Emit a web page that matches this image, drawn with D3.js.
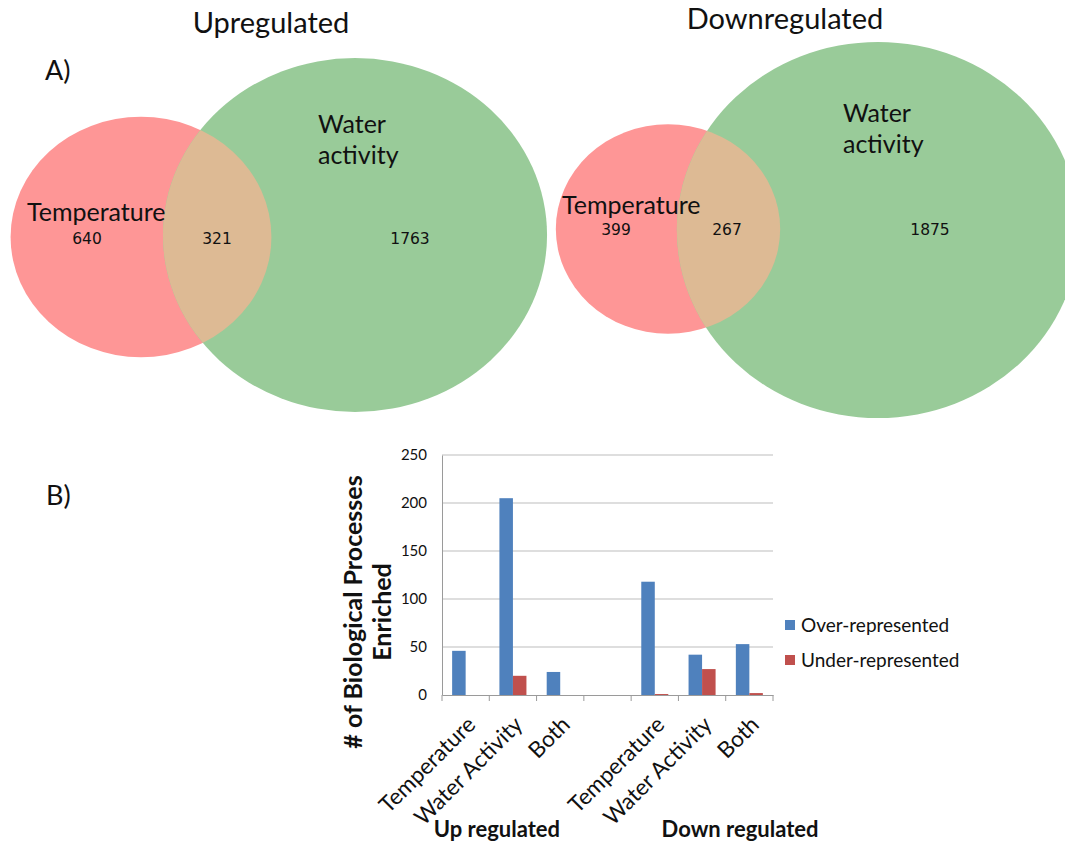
<!DOCTYPE html>
<html>
<head>
<meta charset="utf-8">
<script src="https://cdn.jsdelivr.net/npm/d3@7"></script>
<style>
  html, body { margin: 0; padding: 0; background: #fff; }
  svg { display: block; }
  text { font-family: Lato, "Open Sans", sans-serif; fill: #111; }
</style>
</head>
<body>
<svg id="chart" width="1065" height="845"></svg>
<script>
// ---- Venn counts (A) ----
const vennSets = ["Temperature", "Water activity"];
const upOnlyTemp = 640, upShared = 321, upOnlyWater = 1763;
const downOnlyTemp = 399, downShared = 267, downOnlyWater = 1875;

// ---- Enriched biological processes (B) ----
const barCategories = ["Temperature", "Water Activity", "Both", "", "Temperature ", "Water Activity ", "Both "];
const overRepresented  = [46, 205, 24, null, 118, 42, 53];
const underRepresented = [0, 20, 0, null, 1, 27, 2];
const seriesNames = ["Over-represented", "Under-represented"];
const yTicks = [0, 50, 100, 150, 200, 250];
const groupLabels = ["Up regulated", "Down regulated"];

const svg = d3.select("#chart");

const RED = "#fe9696", GREEN = "#99cb99", MIX = "#ddba94";

// Draws one two-set Venn panel; areas scale with set totals.
function venn(panel) {
  const g = svg.append("g");
  const tempTotal = panel.onlyTemp + panel.shared;
  const waterTotal = panel.onlyWater + panel.shared;
  const r = d3.scaleSqrt().domain([0, waterTotal]).range([0, panel.waterR]);
  const rT = r(tempTotal), rW = r(waterTotal);
  const sx = panel.stretch;
  const id = panel.id;
  g.append("clipPath").attr("id", id + "-t")
    .append("ellipse").attr("cx", panel.tx).attr("cy", panel.ty).attr("rx", rT * sx).attr("ry", rT);
  g.append("ellipse").attr("cx", panel.tx).attr("cy", panel.ty).attr("rx", rT * sx).attr("ry", rT).attr("fill", RED);
  g.append("ellipse").attr("cx", panel.wx).attr("cy", panel.wy).attr("rx", rW * sx).attr("ry", rW).attr("fill", GREEN);
  g.append("ellipse").attr("cx", panel.wx).attr("cy", panel.wy).attr("rx", rW * sx).attr("ry", rW)
    .attr("fill", MIX).attr("clip-path", `url(#${id}-t)`);

  g.append("text").attr("x", panel.titleX).attr("y", panel.titleY).attr("text-anchor", "middle")
    .style("font-size", "29px").text(panel.title);
  g.append("text").attr("x", panel.tLabel[0]).attr("y", panel.tLabel[1])
    .style("font-size", "25px").text(vennSets[0]);
  const words = vennSets[1].split(" ");
  words.forEach((w, i) => g.append("text").attr("x", panel.wLabel[0]).attr("y", panel.wLabel[1] + i * 31)
    .style("font-size", "25px").text(w));
  const nums = [[panel.onlyTemp, panel.nT], [panel.shared, panel.nS], [panel.onlyWater, panel.nW]];
  nums.forEach(([v, p]) => g.append("text").attr("x", p[0]).attr("y", p[1]).attr("text-anchor", "middle")
    .style("font-family", "'DejaVu Sans', sans-serif").style("font-size", "15.5px").text(v));
}

venn({ id: "up", title: "Upregulated", titleX: 271, titleY: 33,
  onlyTemp: upOnlyTemp, shared: upShared, onlyWater: upOnlyWater,
  waterR: 177, stretch: 1.085, tx: 141, ty: 237, wx: 355, wy: 235,
  tLabel: [27, 221], wLabel: [318, 133], nT: [87, 244], nS: [217, 244], nW: [410, 244] });

venn({ id: "down", title: "Downregulated", titleX: 785, titleY: 29,
  onlyTemp: downOnlyTemp, shared: downShared, onlyWater: downOnlyWater,
  waterR: 188, stretch: 1.07, tx: 668, ty: 229, wx: 878, wy: 230,
  tLabel: [562, 214], wLabel: [843, 122], nT: [616, 235], nS: [727, 235], nW: [930, 235] });

svg.append("text").attr("x", 45).attr("y", 80).style("font-size", "27px").text("A)");
svg.append("text").attr("x", 46).attr("y", 505).style("font-size", "27px").text("B)");

// ---- Bar chart ----
const plot = { left: 442, right: 773, top: 455, bottom: 695 };
const x = d3.scaleBand().domain(barCategories).range([plot.left, plot.right]);
const y = d3.scaleLinear().domain([0, 250]).range([plot.bottom, plot.top]);
const bw = x.bandwidth() / 3.5;

const bg = svg.append("g");
bg.selectAll("line.grid").data(yTicks.slice(1)).join("line")
  .attr("x1", plot.left).attr("x2", plot.right)
  .attr("y1", d => y(d)).attr("y2", d => y(d))
  .attr("stroke", "#bdbdbd").attr("stroke-width", 1);

const yAxis = bg.append("g").attr("transform", `translate(${plot.left},0)`)
  .call(d3.axisLeft(y).tickValues(yTicks).tickSize(0).tickPadding(15));
yAxis.select(".domain").attr("stroke", "#9a9a9a");
yAxis.selectAll("text").style("font-family", "Lato, 'Open Sans', sans-serif")
  .style("font-size", "15px").attr("fill", "#222");

const series = [overRepresented, underRepresented];
const colors = ["#4f81bd", "#c0504d"];
series.forEach((vals, s) => {
  bg.append("g").selectAll("rect").data(barCategories.map((c, i) => ({ c, v: vals[i] })).filter(d => d.v != null))
    .join("rect")
    .attr("x", d => x(d.c) + bw * 0.75 + s * bw)
    .attr("width", bw)
    .attr("y", d => y(d.v))
    .attr("height", d => y(0) - y(d.v))
    .attr("fill", colors[s]);
});

const xAxis = bg.append("g").attr("transform", `translate(0,${plot.bottom})`)
  .call(d3.axisBottom(x).tickSize(0).tickFormat(""));
xAxis.select(".domain").attr("stroke", "#9a9a9a");
// category dividers
const edges = barCategories.map(c => x(c)).concat([plot.right]);
bg.selectAll("line.tick-edge").data(edges).join("line")
  .attr("x1", d => d).attr("x2", d => d).attr("y1", plot.bottom).attr("y2", plot.bottom + 6)
  .attr("stroke", "#9a9a9a");

bg.selectAll("text.cat").data(barCategories.filter(c => c.trim() !== "")).join("text")
  .attr("transform", d => `translate(${x(d) + x.bandwidth() / 2},${plot.bottom + 20}) rotate(-45)`)
  .attr("text-anchor", "end").attr("dy", "0.7em")
  .style("font-size", "22.5px").text(d => d.trim());

const groupX = [(x(barCategories[0]) + x(barCategories[2]) + x.bandwidth()) / 2 - 16,
                (x(barCategories[4]) + x(barCategories[6]) + x.bandwidth()) / 2 + 38];
groupLabels.forEach((t, i) => bg.append("text").attr("x", groupX[i]).attr("y", 837)
  .attr("text-anchor", "middle").style("font-size", "22px").style("font-weight", "bold").text(t));

// y axis title
const yt = bg.append("g").attr("transform", "translate(0,612) rotate(-90)");
yt.append("text").attr("x", 0).attr("y", 362).attr("text-anchor", "middle")
  .style("font-size", "25px").style("font-weight", "bold").text("# of Biological Processes");
yt.append("text").attr("x", 0).attr("y", 391).attr("text-anchor", "middle")
  .style("font-size", "25px").style("font-weight", "bold").text("Enriched");

// legend
const lg = bg.append("g").attr("transform", "translate(785,625)");
seriesNames.forEach((n, i) => {
  lg.append("rect").attr("x", 0).attr("y", i * 35 - 5).attr("width", 10).attr("height", 10).attr("fill", colors[i]);
  lg.append("text").attr("x", 16).attr("y", i * 35).attr("dy", "0.35em").style("font-size", "19px").text(n);
});
</script>
</body>
</html>
